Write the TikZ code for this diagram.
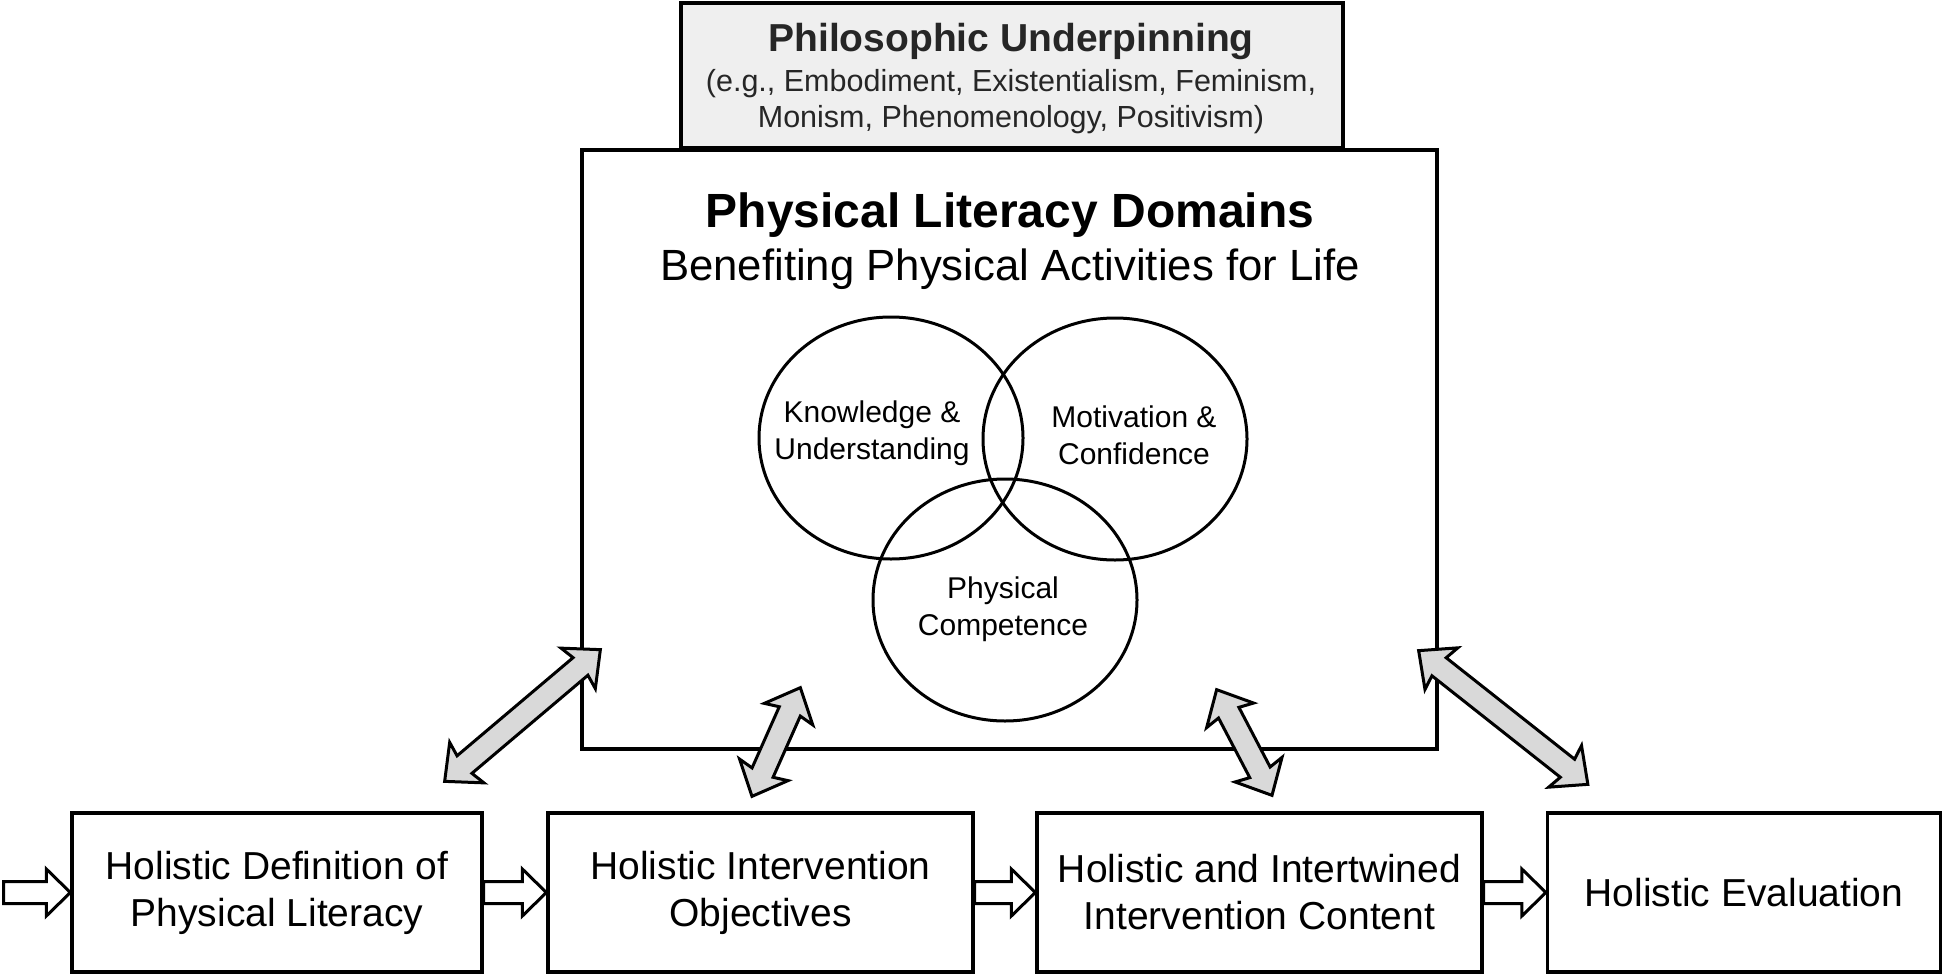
\documentclass[tikz,border=0pt]{standalone}
\usepackage{fontspec}
\setmainfont{Liberation Sans}
\usetikzlibrary{calc,shapes.geometric}
\definecolor{boxgray}{HTML}{EFEFEF}
\definecolor{arrgray}{HTML}{D9D9D9}
\definecolor{inkgray}{HTML}{262626}
\newcommand{\dblarrow}[2]{%
  \coordinate (da-p) at (#1);
  \coordinate (da-q) at (#2);
  \coordinate (da-pj) at ($(da-p)!26pt!(da-q)$);
  \coordinate (da-pb) at ($(da-p)!29pt!(da-q)$);
  \coordinate (da-qj) at ($(da-q)!26pt!(da-p)$);
  \coordinate (da-qb) at ($(da-q)!29pt!(da-p)$);
  \draw[dblarr] (da-p) -- ($(da-pb)!26.5pt!90:(da-q)$) -- ($(da-pj)!11.5pt!90:(da-q)$)
    -- ($(da-qj)!11.5pt!-90:(da-p)$) -- ($(da-qb)!26.5pt!-90:(da-p)$) -- (da-q)
    -- ($(da-qb)!26.5pt!90:(da-p)$) -- ($(da-qj)!11.5pt!90:(da-p)$)
    -- ($(da-pj)!11.5pt!-90:(da-q)$) -- ($(da-pb)!26.5pt!-90:(da-q)$) -- cycle;}
\newcommand{\hollowarrow}[2]{%
  \coordinate (ha-s) at (#1);
  \coordinate (ha-t) at (#2);
  \coordinate (ha-h) at ($(ha-t)!24pt!(ha-s)$);
  \draw[hollowarr] ($(ha-s)!11pt!90:(ha-t)$) -- ($(ha-h)!11pt!-90:(ha-s)$)
    -- ($(ha-h)!23.5pt!-90:(ha-s)$) -- (ha-t) -- ($(ha-h)!23.5pt!90:(ha-s)$)
    -- ($(ha-h)!11pt!90:(ha-s)$) -- ($(ha-s)!11pt!-90:(ha-t)$) -- cycle;}
\begin{document}
\begin{tikzpicture}[x=1pt,y=-1pt,
  frame/.style={draw=black, line width=3.3pt, inner sep=0pt},
  flowbox/.style={frame, fill=white, minimum height=159pt, align=center,
    font=\fontsize{39}{47}\selectfont},
  txt/.style={inner sep=0pt, anchor=base, text=black},
  domainring/.style={draw=black, line width=3pt, ellipse, minimum width=264pt, minimum height=242pt, inner sep=0pt},
  domtxt/.style={inner sep=0pt, align=center, font=\fontsize{30}{37}\selectfont},
  dblarr/.style={draw=black, line width=3pt, fill=arrgray, line join=miter},
  hollowarr/.style={draw=black, line width=3pt, fill=white, line join=miter}]
\useasboundingbox (0,0) rectangle (1944,977);
% main box and philosophic box
\node[frame, fill=white, minimum width=855pt, minimum height=599pt] (main) at (1009.5,449.5) {};
\node[frame, fill=boxgray, minimum width=662pt, minimum height=145pt] (phil) at (1012,75.5) {};
\node[txt, text=inkgray, font=\fontsize{39}{47}\selectfont\bfseries] (philT) at (1011,51) {Philosophic Underpinning};
\node[txt, text=inkgray, font=\fontsize{30.5}{36}\selectfont] (philA) at (1011,91) {(e.g., Embodiment, Existentialism, Feminism,};
\node[txt, text=inkgray, font=\fontsize{30.5}{36}\selectfont] (philB) at (1011,127) {Monism, Phenomenology, Positivism)};
\node[txt, font=\fontsize{48}{56}\selectfont\bfseries] (plT) at (1010,227) {Physical Literacy Domains};
\node[txt, font=\fontsize{43.7}{52}\selectfont] (plS) at (1010,280) {Benefiting Physical Activities for Life};
% domains
\node[domainring] (ku) at (891,438) {};
\node[domainring] (mc) at (1115,439) {};
\node[domainring] (pc) at (1005,600) {};
\node[domtxt] (kuT) at (872,433) {Knowledge \&\\Understanding};
\node[domtxt] (mcT) at (1134,435.5) {Motivation \&\\Confidence};
\node[domtxt] (pcT) at (1003,609) {Physical\\Competence};
% flow boxes
\node[flowbox, minimum width=410pt] (b1) at (277,892.5) {Holistic Definition of\\Physical Literacy};
\node[flowbox, minimum width=425pt] (b2) at (760.5,892.5) {Holistic Intervention\\Objectives};
\node[flowbox, minimum width=445pt] (b3) at (1259.5,892.5) {Holistic and Intertwined\\Intervention Content};
\node[flowbox, minimum width=393pt] (b4) at (1744,892.5) {Holistic Evaluation};
% double arrows between domains box and flow boxes
\coordinate (a1lo) at ($(b1.north east)+(-39,-30)$);
\coordinate (a1hi) at ($(main.south west)+(20,-101)$);
\coordinate (a2lo) at ($(b2.north)+(-8.5,-15)$);
\coordinate (a2hi) at ($(main.south west)+(220,-63)$);
\coordinate (a3lo) at ($(b3.north)+(12.5,-16)$);
\coordinate (a3hi) at ($(main.south east)+(-222,-61)$);
\coordinate (a4lo) at ($(b4.north west)+(42,-27)$);
\coordinate (a4hi) at ($(main.south east)+(-20,-100)$);
\dblarrow{a1lo}{a1hi}
\dblarrow{a2lo}{a2hi}
\dblarrow{a3lo}{a3hi}
\dblarrow{a4lo}{a4hi}
% hollow flow arrows
\coordinate (start) at (3.5,892.5);
\hollowarrow{start}{b1.west}
\hollowarrow{b1.east}{b2.west}
\hollowarrow{b2.east}{b3.west}
\hollowarrow{b3.east}{b4.west}
\end{tikzpicture}
\end{document}
